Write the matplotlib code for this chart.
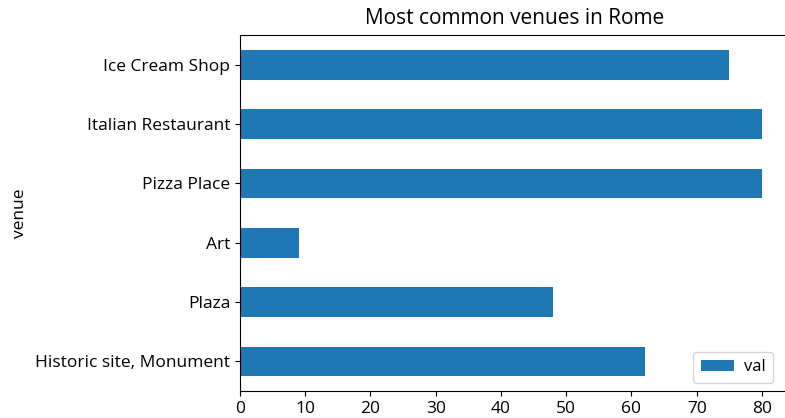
import matplotlib
matplotlib.use('Agg')
import matplotlib.pyplot as plt
import pandas as pd

venues = ['Historic site, Monument', 'Plaza', 'Art', 'Pizza Place',
          'Italian Restaurant', 'Ice Cream Shop']
counts = [62, 48, 9, 80, 80, 75]

plt.rcParams['font.family'] = ['Open Sans', 'DejaVu Sans']
plt.rcParams['font.size'] = 12.5

df = pd.DataFrame({'venue': venues, 'val': counts}).set_index('venue')

fig = plt.figure(figsize=(7.85, 4.18), dpi=100)
# the original screenshot cuts the plot area off at its right edge
ax = fig.add_axes([240 / 785, 1 - 391 / 418, 550 / 785, (391 - 35) / 418])
df.plot.barh(ax=ax, color='#1f77b4')

ax.set_xlim(0, 84.3)
ax.set_xticks(range(0, 90, 10))
ax.spines['right'].set_visible(False)
ax.set_title('Most common venues in Rome', fontsize=15, pad=8)
ax.set_ylabel('venue', labelpad=5)
ax.legend(loc='lower right', bbox_to_anchor=(0.985, 0.0), fontsize=12,
          handlelength=2.0, handletextpad=0.6, borderpad=0.45)

fig.savefig('out.png', dpi=100)
